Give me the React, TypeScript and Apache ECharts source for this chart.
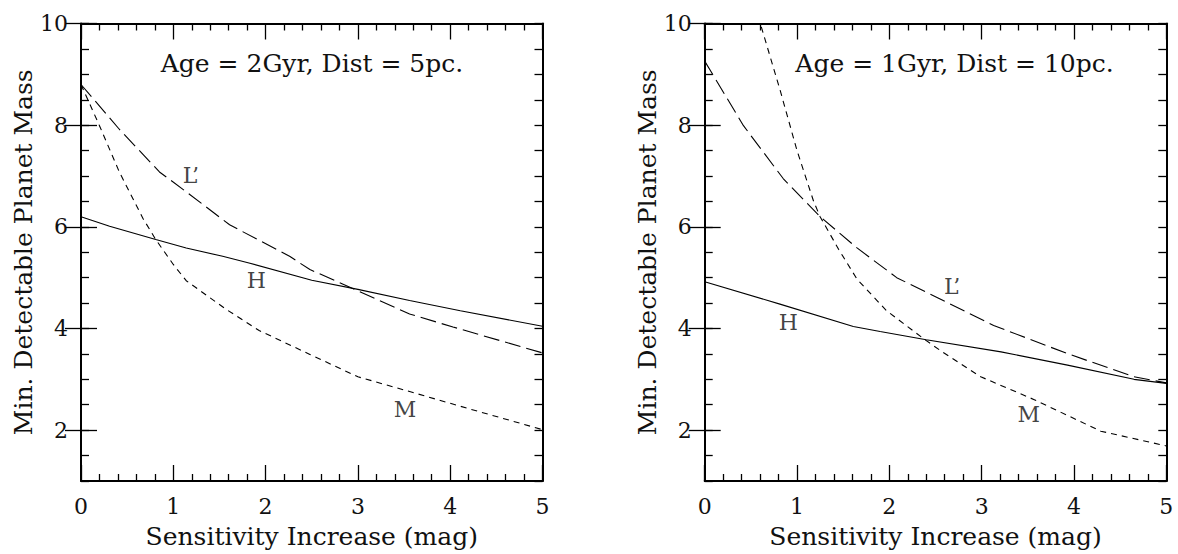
import React, { useEffect, useRef } from "react";
import * as echarts from "echarts";

// ---- Data ----
// Panel A: Age = 2Gyr, Dist = 5pc.
const hA_x = [0, 0.31, 0.81, 1.14, 1.535, 1.82, 2.5, 3.0, 3.56, 4.11, 5.0];
const hA_y = [6.2, 6.01, 5.75, 5.585, 5.42, 5.29, 4.95, 4.77, 4.55, 4.35, 4.045];
const lA_x = [0, 0.415, 0.85, 1.14, 1.61, 2.26, 2.48, 3.0, 3.56, 4.03, 5.0];
const lA_y = [8.8, 7.92, 7.08, 6.69, 6.04, 5.42, 5.16, 4.74, 4.285, 4.03, 3.52];
const mA_x = [0, 0.2, 0.415, 0.67, 0.81, 1.0, 1.14, 1.57, 1.93, 2.48, 3.0, 3.56, 4.11, 5.0];
const mA_y = [8.8, 7.99, 7.08, 6.17, 5.75, 5.26, 4.94, 4.38, 3.96, 3.49, 3.05, 2.76, 2.47, 2.01];

// Panel B: Age = 1Gyr, Dist = 10pc.
const hB_x = [0, 0.815, 1.61, 1.9, 2.4, 3.21, 3.93, 4.65, 5.0];
const hB_y = [4.92, 4.48, 4.04, 3.94, 3.78, 3.54, 3.28, 3.0, 2.92];
const lB_x = [0, 0.42, 0.85, 1.25, 1.65, 2.08, 2.55, 3.13, 3.93, 4.65, 5.0];
const lB_y = [9.26, 7.99, 6.95, 6.2, 5.585, 5.0, 4.58, 4.06, 3.505, 3.05, 2.93];
const mB_x = [0.55, 0.607, 0.815, 1.0, 1.18, 1.25, 1.45, 1.65, 1.97, 2.37, 2.55, 2.99, 3.57, 4.29, 5.0];
const mB_y = [10.35, 9.97, 8.7, 7.5, 6.5, 6.2, 5.56, 4.97, 4.35, 3.8, 3.57, 3.05, 2.6, 1.98, 1.69];

// Curve label anchors (data coordinates)
const labelsA = [
  { name: "L\u2019", at: [1.19, 7.01] },
  { name: "H", at: [1.9, 4.94] },
  { name: "M", at: [3.51, 2.41] },
];
const labelsB = [
  { name: "L\u2019", at: [2.68, 4.82] },
  { name: "H", at: [0.905, 4.12] },
  { name: "M", at: [3.51, 2.3] },
];

const titles = ["Age = 2Gyr, Dist = 5pc.", "Age = 1Gyr, Dist = 10pc."];
const xTitle = "Sensitivity Increase (mag)";
const yTitle = "Min. Detectable Planet Mass";
const majorY = [2, 4, 6, 8, 10];

const FONT = "DejaVu Serif";
const INK = "#111";

const zip = (xs: number[], ys: number[]) => xs.map((x, i) => [x, ys[i]]);

export default function App() {
  const ref = useRef<HTMLDivElement>(null);
  useEffect(() => {
    document.body.style.margin = "0";
    const chart = echarts.init(ref.current!, undefined, { renderer: "svg" });

    const grids = [
      { left: 81, top: 23.5, width: 461.5, height: 462.2 },
      { left: 704.7, top: 23.5, width: 461.6, height: 462.2 },
    ];

    const tickLine = { color: "#000", width: 1.3 };
    const frameLine = { color: "#000", width: 2 };
    const txt = { fontFamily: FONT, color: INK };

    const xAxes: any[] = [];
    const yAxes: any[] = [];
    grids.forEach((_, g) => {
      ["bottom", "top"].forEach((pos) => {
        xAxes.push({
          gridIndex: g,
          type: "value",
          position: pos,
          min: 0,
          max: 5,
          interval: 1,
          axisLine: { show: true, onZero: false, lineStyle: frameLine },
          axisTick: { show: true, inside: true, length: 16, lineStyle: tickLine },
          minorTick: { show: true, splitNumber: 5, length: 7, lineStyle: tickLine },
          axisLabel: { show: pos === "bottom", margin: 14, fontSize: 22, ...txt },
          splitLine: { show: false },
          name: pos === "bottom" ? xTitle : "",
          nameLocation: "middle",
          nameGap: 43,
          nameTextStyle: { fontSize: 25, ...txt },
        });
      });
      ["left", "right"].forEach((pos) => {
        yAxes.push({
          gridIndex: g,
          type: "value",
          position: pos,
          min: 1,
          max: 10,
          interval: 0.5,
          axisLine: { show: true, onZero: false, lineStyle: frameLine },
          axisTick: { show: true, inside: true, length: 8, lineStyle: tickLine },
          axisLabel: {
            show: pos === "left",
            margin: 13,
            fontSize: 22,
            ...txt,
            formatter: (v: number) => (Math.abs(v % 2) < 1e-9 ? String(v) : ""),
          },
          splitLine: { show: false },
          name: pos === "left" ? yTitle : "",
          nameLocation: "middle",
          nameGap: 40,
          nameTextStyle: { fontSize: 25, ...txt },
        });
        yAxes.push({
          gridIndex: g,
          type: "value",
          position: pos,
          min: 1,
          max: 10,
          axisLine: { show: false },
          axisTick: { show: true, inside: true, length: 16, customValues: majorY, lineStyle: tickLine },
          axisLabel: { show: false },
          splitLine: { show: false },
        });
      });
    });

    const line = (data: number[][], g: number, dash: any, name: string) => ({
      type: "line",
      name,
      xAxisIndex: g * 2,
      yAxisIndex: g * 4,
      data,
      symbol: "none",
      clip: true,
      smooth: false,
      lineStyle: { color: "#000", width: 1.1, type: dash },
      z: 3,
    });

    const labelSeries = (labels: any[], g: number) => ({
      type: "scatter",
      xAxisIndex: g * 2,
      yAxisIndex: g * 4,
      symbolSize: 0,
      data: labels.map((l) => ({ name: l.name, value: l.at })),
      label: {
        show: true,
        position: "inside",
        formatter: "{b}",
        fontSize: 22,
        ...txt,
      },
      silent: true,
    });

    chart.setOption({
      animation: false,
      backgroundColor: "#fff",
      grid: grids.map((g) => ({ ...g, containLabel: false, show: false })),
      xAxis: xAxes,
      yAxis: yAxes,
      series: [
        line(zip(hA_x, hA_y), 0, "solid", "H"),
        line(zip(lA_x, lA_y), 0, [16, 6], "L'"),
        line(zip(mA_x, mA_y), 0, [6, 5], "M"),
        labelSeries(labelsA, 0),
        line(zip(hB_x, hB_y), 1, "solid", "H"),
        line(zip(lB_x, lB_y), 1, [16, 6], "L'"),
        line(zip(mB_x, mB_y), 1, [6, 5], "M"),
        labelSeries(labelsB, 1),
      ],
      graphic: [
        {
          type: "text",
          x: 312,
          y: 63,
          style: { text: titles[0], font: `25px "${FONT}"`, fill: INK, textAlign: "center", textVerticalAlign: "middle" },
        },
        {
          type: "text",
          x: 954.5,
          y: 63,
          style: { text: titles[1], font: `25px "${FONT}"`, fill: INK, textAlign: "center", textVerticalAlign: "middle" },
        },
      ],
    });
    return () => chart.dispose();
  }, []);
  return <div ref={ref} style={{ width: 1178, height: 554 }} />;
}
